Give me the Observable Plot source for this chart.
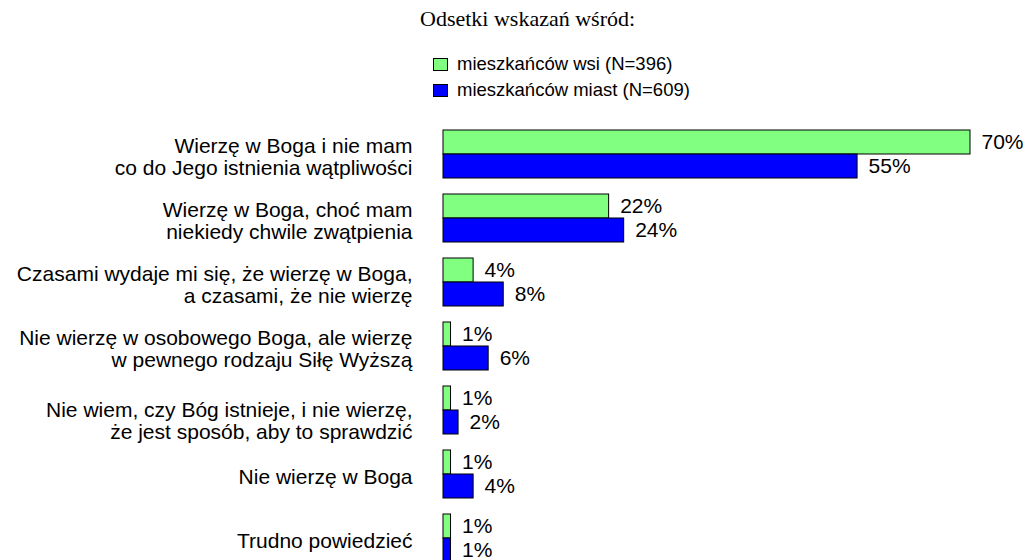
<!DOCTYPE html>
<html>
<head>
<meta charset="utf-8">
<script src="https://cdn.jsdelivr.net/npm/d3@7"></script>
<script src="https://cdn.jsdelivr.net/npm/@observablehq/plot@0.6"></script>
<style>
  html, body { margin: 0; padding: 0; background: #fff; }
  #header { position: relative; width: 1028px; height: 110px; }
  #title { position: absolute; left: 420px; top: 6px; font-family: "Liberation Serif", "Times New Roman", serif; font-size: 22px; color: #000; white-space: nowrap; }
  .lg { position: absolute; left: 433px; height: 20px; line-height: 20px; font-family: "Liberation Sans", Arial, sans-serif; font-size: 18.5px; color: #000; white-space: nowrap; display: flex; align-items: center; }
  .sw { display: inline-block; width: 13px; height: 11px; border: 1px solid #000; margin-right: 9px; }
  #chart svg { display: block; }
</style>
</head>
<body>
<div id="header">
  <div id="title"></div>
  <div id="legend"></div>
</div>
<div id="chart"></div>
<script>
const titleText = "Odsetki wskazań wśród:";
const categories = [
  "Wierzę w Boga i nie mam co do Jego istnienia wątpliwości",
  "Wierzę w Boga, choć mam niekiedy chwile zwątpienia",
  "Czasami wydaje mi się, że wierzę w Boga, a czasami, że nie wierzę",
  "Nie wierzę w osobowego Boga, ale wierzę w pewnego rodzaju Siłę Wyższą",
  "Nie wiem, czy Bóg istnieje, i nie wierzę, że jest sposób, aby to sprawdzić",
  "Nie wierzę w Boga",
  "Trudno powiedzieć"
];
const categoryLabels = [
  "Wierzę w Boga i nie mam\nco do Jego istnienia wątpliwości",
  "Wierzę w Boga, choć mam\nniekiedy chwile zwątpienia",
  "Czasami wydaje mi się, że wierzę w Boga,\na czasami, że nie wierzę",
  "Nie wierzę w osobowego Boga, ale wierzę\nw pewnego rodzaju Siłę Wyższą",
  "Nie wiem, czy Bóg istnieje, i nie wierzę,\nże jest sposób, aby to sprawdzić",
  "Nie wierzę w Boga",
  "Trudno powiedzieć"
];
const seriesNames = ["mieszkańców wsi (N=396)", "mieszkańców miast (N=609)"];
const seriesColors = ["#80ff80", "#0000ff"];
const wsiValues = [70, 22, 4, 1, 1, 1, 1];
const miastaValues = [55, 24, 8, 6, 2, 4, 1];

document.getElementById("title").textContent = titleText;
const legend = document.getElementById("legend");
seriesNames.forEach((name, i) => {
  const row = document.createElement("div");
  row.className = "lg";
  row.style.top = (54 + i * 26) + "px";
  const sw = document.createElement("span");
  sw.className = "sw";
  sw.style.background = seriesColors[i];
  row.appendChild(sw);
  row.appendChild(document.createTextNode(name));
  legend.appendChild(row);
});

const data = categories.flatMap((c, i) => [
  {category: c, series: seriesNames[0], value: wsiValues[i]},
  {category: c, series: seriesNames[1], value: miastaValues[i]}
]);
const labelData = categories.map((c, i) => ({category: c, label: categoryLabels[i]}));
// the fifth label sits lower in its row in the original
const shiftedLabel = categories[4];

const chart = Plot.plot({
  width: 1028,
  height: 453,
  marginTop: 20,
  marginBottom: 0,
  marginLeft: 443,
  marginRight: 58,
  x: {domain: [0, d3.max(wsiValues.concat(miastaValues))], axis: null},
  y: {domain: seriesNames, axis: null, padding: 0},
  fy: {domain: categories, axis: null, paddingInner: 0.25, paddingOuter: 0, align: 0},
  color: {domain: seriesNames, range: seriesColors},
  style: {fontFamily: "'Liberation Sans', Arial, sans-serif", color: "#000", background: "#fff"},
  marks: [
    Plot.barX(data, {fy: "category", y: "series", x: "value", fill: "series", stroke: "#000", strokeWidth: 1}),
    Plot.text(data, {fy: "category", y: "series", x: "value", text: d => d.value + "%", textAnchor: "start", dx: 11, fontSize: 21, fill: "#000"}),
    Plot.text(labelData.filter(d => d.category !== shiftedLabel), {fy: "category", frameAnchor: "left", dx: -31, dy: 2, textAnchor: "end", text: "label", fontSize: 21, lineHeight: 1.05, fill: "#000"}),
    Plot.text(labelData.filter(d => d.category === shiftedLabel), {fy: "category", frameAnchor: "left", dx: -31, dy: 10, textAnchor: "end", text: "label", fontSize: 21, lineHeight: 1.05, fill: "#000"})
  ]
});
document.getElementById("chart").appendChild(chart);
</script>
</body>
</html>
